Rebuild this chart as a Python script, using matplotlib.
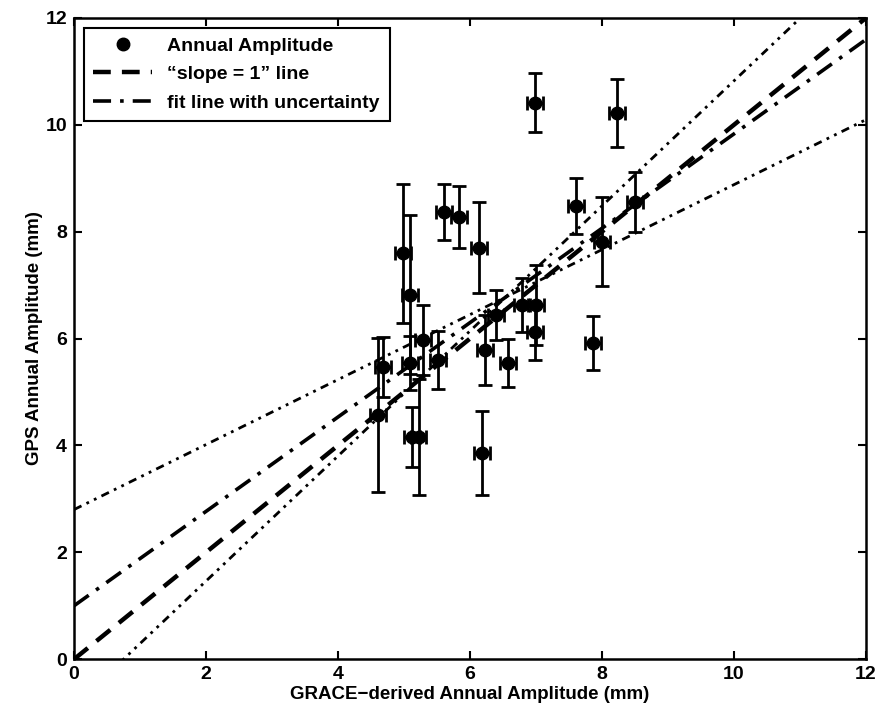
import numpy as np
import matplotlib
matplotlib.use('Agg')
import matplotlib.pyplot as plt
from matplotlib.lines import Line2D

# GRACE-derived vs GPS annual amplitudes (mm)
grace_amp = [4.60, 4.68, 4.98, 5.09, 5.09, 5.12, 5.22, 5.29, 5.52, 5.60,
             5.83, 6.14, 6.18, 6.23, 6.40, 6.58, 6.79, 6.98, 7.00, 6.98,
             7.60, 7.86, 8.00, 8.23, 8.50]
gps_amp = [4.57, 5.47, 7.60, 6.82, 5.54, 4.16, 4.16, 5.97, 5.60, 8.37,
           8.28, 7.70, 3.86, 5.79, 6.44, 5.54, 6.63, 6.12, 6.63, 10.41,
           8.48, 5.92, 7.81, 10.22, 8.56]
gps_err = [1.44, 0.56, 1.30, 1.49, 0.50, 0.56, 1.09, 0.66, 0.55, 0.52,
           0.58, 0.85, 0.79, 0.66, 0.47, 0.45, 0.50, 0.52, 0.75, 0.55,
           0.52, 0.50, 0.83, 0.64, 0.56]
grace_err = [0.12] * len(grace_amp)

# line parameters (slope, intercept)
slope_one = (1.0, 0.0)
fit_line = (0.883, 1.0)
fit_upper = (0.608, 2.8)
fit_lower = (1.17, -0.8775)

plt.rcParams['font.family'] = ['Liberation Sans', 'DejaVu Sans']
plt.rcParams['font.weight'] = 'bold'

fig = plt.figure(figsize=(8.81, 7.15), dpi=100)
ax = fig.add_axes([0.084, 0.078, 0.899, 0.897])

xx = np.array([0.0, 12.0])
ax.errorbar(grace_amp, gps_amp, yerr=gps_err, xerr=grace_err, fmt='o',
            color='black', ms=9, elinewidth=2, capsize=5, capthick=2,
            zorder=3)
l1, = ax.plot(xx, slope_one[0] * xx + slope_one[1], color='black', lw=3.2,
              linestyle=(0, (4, 2.5)))
l2, = ax.plot(xx, fit_line[0] * xx + fit_line[1], color='black', lw=2.6,
              linestyle=(0, (5, 2.5, 1, 2.5)))
for m, b in (fit_upper, fit_lower):
    ax.plot(xx, m * xx + b, color='black', lw=2,
            linestyle=(0, (3, 2, 1, 2, 1, 2)))

ax.set_xlim(0, 12)
ax.set_ylim(0, 12)
ax.set_xticks(np.arange(0, 13, 2))
ax.set_yticks(np.arange(0, 13, 2))
ax.tick_params(direction='in', top=True, right=True, length=6, width=1.5,
               labelsize=14, pad=5)
for s in ax.spines.values():
    s.set_linewidth(1.8)
ax.set_xlabel('GRACE\u2212derived Annual Amplitude (mm)', fontsize=13.5,
              fontweight='bold', labelpad=2)
ax.set_ylabel('GPS Annual Amplitude (mm)', fontsize=13.5, fontweight='bold',
              labelpad=2)

dot = Line2D([], [], color='black', marker='o', ms=9, linestyle='none')
leg = ax.legend([dot, l1, l2],
                ['Annual Amplitude', '\u201cslope = 1\u201d line',
                 'fit line with uncertainty'],
                loc='upper left', fancybox=False, edgecolor='black',
                fontsize=14, handlelength=3.0, borderaxespad=0.5,
                framealpha=1, labelspacing=0.55, borderpad=0.5)
leg.get_frame().set_linewidth(1.5)

fig.savefig('out.png', dpi=100)
